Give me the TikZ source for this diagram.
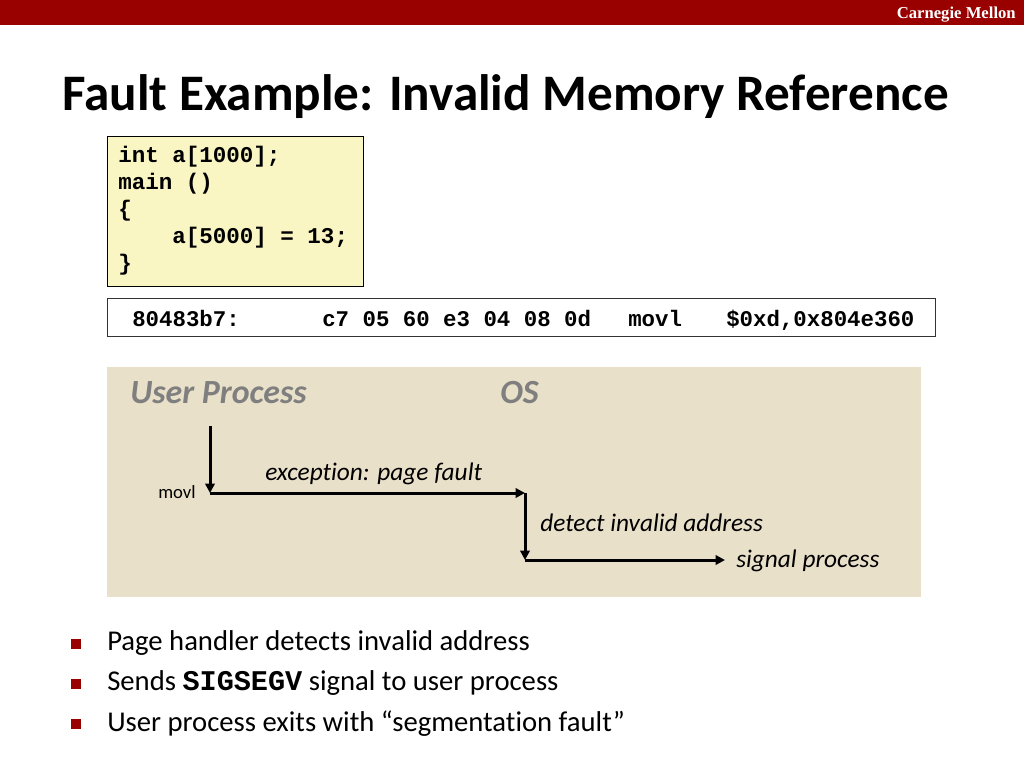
\documentclass[tikz,border=0pt]{standalone}
\usepackage{fontspec}
\setmainfont{Carlito}[Ligatures=NoCommon]
\newfontfamily\codefont{Liberation Mono}
\newfontfamily\cmufont{Liberation Serif}
\usetikzlibrary{arrows.meta}
\definecolor{cmured}{HTML}{990000}
\definecolor{codefill}{HTML}{F9F6C3}
\definecolor{panel}{HTML}{E9E0C9}
\definecolor{headgray}{HTML}{7F7F7F}
\tikzset{
  code/.style={anchor=base west, inner sep=0pt, font=\codefont\bfseries\fontsize{16.9}{20}\selectfont},
  asm/.style={anchor=base west, inner sep=0pt, font=\codefont\bfseries\fontsize{16.8}{20}\selectfont},
  head/.style={anchor=base west, inner sep=0pt, text=headgray, font=\bfseries\itshape\fontsize{25.4}{30}\selectfont},
  step label/.style={anchor=base west, inner sep=0pt, font=\itshape\fontsize{19}{22}\selectfont},
  flow/.style={line width=2.25pt, -{Triangle[length=7pt,width=7pt]}},
  bullet text/.style={anchor=base west, inner sep=0pt, font=\fontsize{21.5}{26}\selectfont},
}

\begin{document}
\begin{tikzpicture}[x=0.75pt,y=-0.75pt]
			%%%%% START %%%%%
			\useasboundingbox (0,0) rectangle (1024,768);
			
			% header bar
			\fill[cmured] (0,0) rectangle (1024,25);
			\node[anchor=base east, inner sep=0pt, text=white, font=\cmufont\bfseries\fontsize{12.5}{14}\selectfont] (cmu) at (1016,18) {Carnegie Mellon};
			
			\node[anchor=base west, inner sep=0pt, font=\bfseries\fontsize{38.4}{44}\selectfont] (title) at (62,110) {Fault Example: Invalid Memory Reference};
			
			% C source
			\draw[fill=codefill, line width=0.75pt] (107,136) rectangle (363,286);
			\node[code] (c1) at (118,162) {int a[1000];};
			\node[code] (c2) at (118,189) {main ()};
			\node[code] (c3) at (118,216) {\{};
			\node[code] (c4) at (172,243) {a[5000] = 13;};
			\node[code] (c5) at (118,270) {\}};
			
			% disassembly
			\draw[fill=white, line width=0.75pt, draw=black!80] (107,298) rectangle (935,336);
			\node[asm] (addr) at (132,326) {80483b7:};
			\node[asm] (bytes) at (322,326) {c7 05 60 e3 04 08 0d};
			\node[asm] (op) at (628,326) {movl};
			\node[asm] (args) at (726,326) {\$0xd,0x804e360};
			
			% control flow
			\fill[panel] (107,367) rectangle (921,597);
			\node[head] (user) at (130,403) {User Process};
			\node[head] (os) at (500,403) {OS};
			
			\coordinate (start) at (210,426);
			\coordinate (trap) at (210,493);
			\coordinate (handler) at (525,493);
			\coordinate (check) at (525,560);
			\coordinate (signal) at (725,560);
			
			\draw[flow] (start) -- (trap);
			\draw[flow] (trap) -- (handler);
			\draw[flow] (handler) -- (check);
			\draw[flow] (check) -- (signal);
			
			\node[anchor=base west, inner sep=0pt, font=\fontsize{14}{16}\selectfont] (movl) at (158,498) {movl};
			\node[step label] (fault) at (265,480) {exception: page fault};
			\node[step label] (detect) at (540,531) {detect invalid address};
			\node[step label] (sig) at (736,567) {signal process};
			
			% bullets
			\fill[cmured] (71,639) rectangle (81,649);
			\fill[cmured] (71,679) rectangle (81,689);
			\fill[cmured] (71,719) rectangle (81,729);
			\node[bullet text] (b1) at (107,650) {Page handler detects invalid address};
			\node[bullet text] (b2) at (107,690) {Sends {\codefont\bfseries\fontsize{21.4}{24}\selectfont SIGSEGV} signal to user process};
			\node[bullet text] (b3) at (107,731) {User process exits with “segmentation fault”};
			
			%%%%% END %%%%%
		\end{tikzpicture}
\end{document}
